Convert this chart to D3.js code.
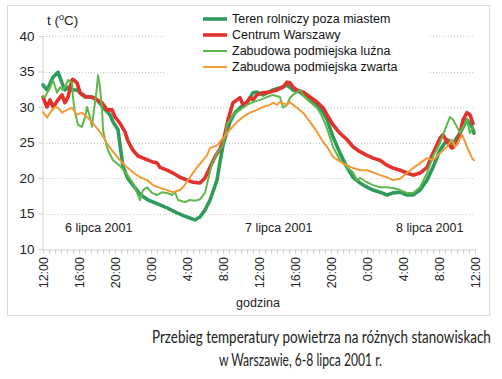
<!DOCTYPE html>
<html><head><meta charset="utf-8">
<script src="https://cdn.jsdelivr.net/npm/d3@7"></script>
<style>
html,body{margin:0;padding:0;background:#fff;}
svg{display:block;}
</style></head>
<body>
<svg id="c" width="502" height="379"></svg>
<script>
// ---- data (hours since 12:00 on 6 July, temperature °C) ----
const seriesNames = ["Teren rolniczy poza miastem","Centrum Warszawy","Zabudowa podmiejska luźna","Zabudowa podmiejska zwarta"];
const seriesColors = ["#2f9b5b","#e2322b","#5cb94a","#f39a36"];
const seriesWidths = [3.6,3.6,2,2];
const xTickLabels = ["12:00","16:00","20:00","0:00","4:00","8:00","12:00","16:00","20:00","0:00","4:00","8:00","12:00"];
const yTicks = [10,15,20,25,30,35,40];
const dateLabels = ["6 lipca 2001","7 lipca 2001","8 lipca 2001"];

const teren = [[0,33.1],[0.44,32.4],[1.11,34.2],[1.67,34.9],[2.11,33.4],[2.44,32.4],[2.78,32.8],[3.22,32.4],[3.78,32.4],[4.11,32.0],[4.67,31.4],[5.44,31.4],[6.0,31.0],[6.67,30.0],[7.44,28.9],[7.78,27.9],[8.33,26.8],[8.56,24.6],[8.89,21.6],[9.44,19.9],[10.0,19.0],[10.78,17.7],[11.67,16.9],[12.67,16.4],[13.78,15.8],[14.89,15.1],[16.0,14.5],[16.89,14.1],[17.44,14.5],[18.0,15.5],[18.56,16.9],[19.33,19.7],[19.67,22.3],[20.0,24.6],[20.44,26.5],[20.78,27.9],[21.33,29.2],[21.89,29.9],[22.67,30.6],[23.33,32.0],[23.78,32.1],[24.44,31.7],[25.56,32.4],[26.33,32.7],[27.11,33.1],[27.78,32.4],[28.56,32.1],[29.33,31.3],[30.44,30.3],[31.11,29.3],[31.56,28.2],[32.22,25.8],[33.0,23.5],[33.78,21.5],[34.44,20.1],[35.22,19.3],[36.0,18.7],[36.67,18.3],[37.44,18.0],[38.22,17.6],[38.89,17.9],[39.67,18.0],[40.44,17.6],[41.11,17.6],[41.89,18.3],[42.67,19.7],[43.33,21.5],[44.11,23.9],[44.89,25.4],[45.56,24.9],[46.33,26.3],[47.11,28.2],[47.67,27.2],[47.89,26.3]];

const centrum = [[0,31.4],[0.44,30.0],[0.78,31.0],[1.11,30.0],[1.67,31.0],[2.11,31.7],[2.44,30.6],[2.78,31.4],[3.22,33.8],[3.33,33.9],[3.78,33.4],[4.11,32.0],[4.44,31.7],[4.89,31.4],[5.44,31.4],[6.0,31.0],[6.56,30.6],[7.11,29.6],[7.67,29.6],[8.0,28.6],[8.56,27.7],[9.11,26.5],[9.44,25.2],[10.0,23.9],[10.56,23.1],[11.33,22.7],[12.11,22.3],[12.67,22.1],[13.0,21.5],[13.78,21.1],[14.44,20.7],[15.22,20.1],[16.0,19.7],[16.67,19.4],[17.44,19.3],[18.0,20.0],[18.56,21.5],[19.11,23.0],[19.67,24.1],[20.11,25.6],[20.56,28.2],[21.11,30.6],[21.56,31.0],[21.89,31.3],[22.22,30.3],[22.67,30.7],[23.0,31.3],[23.33,31.0],[23.78,31.7],[24.44,32.0],[25.22,32.1],[26.0,32.4],[26.67,32.8],[27.11,33.5],[27.44,33.4],[27.78,32.8],[28.22,32.4],[28.89,32.1],[29.67,31.4],[30.44,30.7],[31.11,29.9],[31.56,28.9],[32.22,27.5],[33.0,26.3],[33.78,25.4],[34.44,24.4],[35.22,23.7],[36.0,23.2],[36.67,22.8],[37.44,22.5],[38.22,21.8],[38.89,21.4],[39.67,21.1],[40.44,20.7],[41.11,20.4],[41.89,20.7],[42.67,21.5],[43.33,23.5],[44.11,25.6],[44.44,26.1],[44.89,25.1],[45.44,24.2],[46.0,24.9],[46.33,26.3],[46.67,28.2],[47.11,29.2],[47.44,28.9],[47.78,27.7]];

const luzna = [[0,31.4],[0.22,31.4],[0.78,32.7],[1.11,33.8],[1.56,32.0],[1.89,32.8],[2.22,32.4],[2.67,33.4],[2.78,33.8],[3.22,33.5],[3.33,31.4],[3.56,29.2],[3.89,27.5],[4.33,27.2],[4.67,28.6],[4.89,30.0],[5.22,28.6],[5.44,27.2],[5.67,29.6],[6.0,32.8],[6.11,34.5],[6.33,32.8],[6.56,29.6],[6.67,26.8],[6.89,25.4],[7.22,23.9],[7.78,22.5],[8.56,21.7],[9.33,20.5],[10.0,19.3],[10.78,16.9],[11.11,18.3],[11.56,18.7],[12.11,17.9],[12.67,17.6],[13.22,18.0],[13.78,17.9],[14.33,17.6],[14.67,18.0],[15.0,16.9],[15.78,16.6],[16.33,16.9],[16.89,16.8],[17.44,17.0],[18.0,17.9],[18.33,19.7],[18.78,22.1],[19.33,23.5],[19.89,24.4],[20.22,25.8],[20.44,27.5],[21.11,28.9],[21.89,29.6],[22.67,30.3],[23.33,30.7],[24.11,31.0],[24.89,31.4],[25.56,31.7],[26.33,31.4],[26.67,29.9],[27.11,30.3],[27.44,31.3],[27.78,31.7],[28.22,32.1],[28.56,32.4],[28.89,31.7],[29.67,30.7],[30.44,29.9],[30.89,29.0],[31.56,27.0],[32.22,24.4],[33.0,22.5],[33.78,21.5],[34.44,20.8],[34.89,19.7],[35.22,20.0],[36.0,19.4],[36.67,19.0],[37.44,18.7],[38.22,18.7],[38.89,18.6],[39.67,18.3],[40.44,17.9],[41.11,17.9],[41.89,18.7],[42.67,20.7],[43.33,23.0],[44.11,24.9],[44.67,26.8],[45.22,28.6],[45.56,28.2],[46.0,27.2],[46.33,26.3],[46.67,27.2],[47.11,28.2],[47.44,26.3],[47.78,27.2]];

const zwarta = [[0,29.3],[0.44,28.5],[0.78,29.2],[1.33,30.0],[1.67,29.9],[2.11,29.2],[2.67,29.6],[3.22,29.9],[3.78,28.9],[4.33,29.2],[4.89,28.6],[5.44,27.9],[6.0,27.0],[6.56,26.1],[7.11,24.9],[7.67,23.9],[8.56,22.5],[9.33,21.5],[10.0,20.8],[10.78,20.1],[11.56,19.7],[12.22,19.0],[13.0,18.6],[13.78,18.3],[14.44,18.0],[15.22,18.3],[15.56,18.7],[16.33,20.1],[17.11,21.5],[17.78,22.5],[18.22,23.2],[18.56,24.2],[19.33,24.6],[20.0,25.6],[20.78,26.8],[21.56,27.9],[22.22,28.6],[23.0,29.2],[23.78,29.6],[24.44,30.0],[25.22,30.3],[25.56,30.6],[26.0,30.3],[26.33,30.7],[27.11,30.3],[27.44,30.7],[27.78,30.3],[28.22,29.9],[28.89,29.2],[29.67,27.9],[30.44,26.5],[31.11,25.1],[31.67,24.2],[32.22,23.0],[33.0,22.3],[33.78,21.8],[34.44,21.4],[35.22,21.1],[36.0,21.1],[36.67,20.8],[37.44,20.4],[38.22,20.1],[38.89,19.7],[39.67,19.9],[40.44,20.7],[41.11,21.4],[41.89,22.1],[42.67,22.8],[43.33,22.5],[44.11,23.5],[44.89,24.4],[45.44,25.4],[45.78,24.4],[46.11,25.0],[46.56,26.1],[47.11,24.4],[47.67,22.8],[47.89,22.5]];

const allSeries = [teren, centrum, luzna, zwarta];

// ---- drawing ----
const svg = d3.select("#c");
const FONT = "'Liberation Sans', Arial, sans-serif";
const x = d3.scaleLinear().domain([0,48]).range([43,475]);
const y = d3.scaleLinear().domain([10,40]).range([249,36]);

// outer border
svg.append("rect").attr("x",7.5).attr("y",5.5).attr("width",482).attr("height",310)
  .attr("fill","#fff").attr("stroke","#d9d9d9").attr("stroke-width",1);

// gridlines
svg.append("g").selectAll("line").data(yTicks.filter(d=>d>10)).join("line")
  .attr("x1",43).attr("x2",475)
  .attr("y1",d=>Math.round(y(d))+0.5).attr("y2",d=>Math.round(y(d))+0.5)
  .attr("stroke","#c9c9c9").attr("stroke-width",1).attr("stroke-dasharray","1,2");

// y axis
const yAxis = d3.axisLeft(y).tickValues(yTicks).tickSize(4).tickFormat(d3.format("d"));
const gy = svg.append("g").attr("transform","translate(42.5,0)").call(yAxis);
gy.select(".domain").attr("stroke","#d0d0d0");
gy.selectAll(".tick line").attr("stroke","#d0d0d0");
gy.selectAll(".tick text").attr("font-family",FONT).attr("font-size",13.5).attr("fill","#222").attr("x",-8);

// x axis with minor ticks every 40 min
const xAxis = d3.axisBottom(x).tickValues(d3.range(0,48.001,2/3)).tickSize(4).tickFormat("");
const gx = svg.append("g").attr("transform","translate(0,249.5)").call(xAxis);
gx.select(".domain").attr("stroke","#d0d0d0");
gx.selectAll(".tick line").attr("stroke","#cfcfcf");

// x labels
svg.append("g").selectAll("text").data(xTickLabels).join("text")
  .attr("transform",(d,i)=>`translate(${x(i*4)+1},257) rotate(-90)`)
  .attr("text-anchor","end").attr("dy","0.35em")
  .attr("font-family",FONT).attr("font-size",12.5).attr("fill","#222")
  .text(d=>d);

// lines
const line = d3.line().x(d=>x(d[0])).y(d=>y(d[1])).curve(d3.curveLinear);
svg.append("g").selectAll("path").data(allSeries).join("path")
  .attr("d",line).attr("fill","none")
  .attr("stroke",(d,i)=>seriesColors[i]).attr("stroke-width",(d,i)=>seriesWidths[i])
  .attr("stroke-linejoin","round").attr("stroke-linecap","round");

// legend
const lg = svg.append("g");
lg.append("rect").attr("x",165).attr("y",9).attr("width",265).attr("height",67).attr("fill","#fff");
const ly = [19,35,51,67];
seriesNames.forEach((n,i)=>{
  lg.append("line").attr("x1",203).attr("x2",227).attr("y1",ly[i]).attr("y2",ly[i])
    .attr("stroke",seriesColors[i]).attr("stroke-width",seriesWidths[i]);
  lg.append("text").attr("x",232).attr("y",ly[i]).attr("dy","0.35em")
    .attr("font-family",FONT).attr("font-size",12.5).attr("fill","#111").text(n);
});

// y title
const yt = svg.append("text").attr("x",47).attr("y",25).attr("font-family",FONT).attr("font-size",13.5).attr("fill","#222");
yt.append("tspan").text("t (");
yt.append("tspan").attr("font-size",9).attr("dy",-5).text("o");
yt.append("tspan").attr("dy",5).text("C)");

// date labels
const dateX = [65,245,396];
svg.append("g").selectAll("text").data(dateLabels).join("text")
  .attr("x",(d,i)=>dateX[i]).attr("y",232)
  .attr("font-family",FONT).attr("font-size",12.5).attr("fill","#222").text(d=>d);

// x title
svg.append("text").attr("x",258).attr("y",307).attr("text-anchor","middle")
  .attr("font-family",FONT).attr("font-size",12.5).attr("fill","#222").text("godzina");

// caption (horizontally scaled to the reference's narrow lettering)
const capFont = "Lato, 'Open Sans', sans-serif";
const caps = [
  {t:"Przebieg temperatury powietrza na różnych stanowiskach", x:152, y:343, w:339},
  {t:"w Warszawie, 6-8 lipca 2001 r.", x:219, y:366, w:163}
];
caps.forEach(c=>{
  const g = svg.append("g");
  const t = g.append("text").attr("x",0).attr("y",0)
    .attr("font-family",capFont).attr("font-size",16.5).attr("fill","#222").text(c.t);
  const w = t.node().getComputedTextLength();
  g.attr("transform",`translate(${c.x},${c.y}) scale(${c.w/w},1)`);
});
</script>
</body></html>
